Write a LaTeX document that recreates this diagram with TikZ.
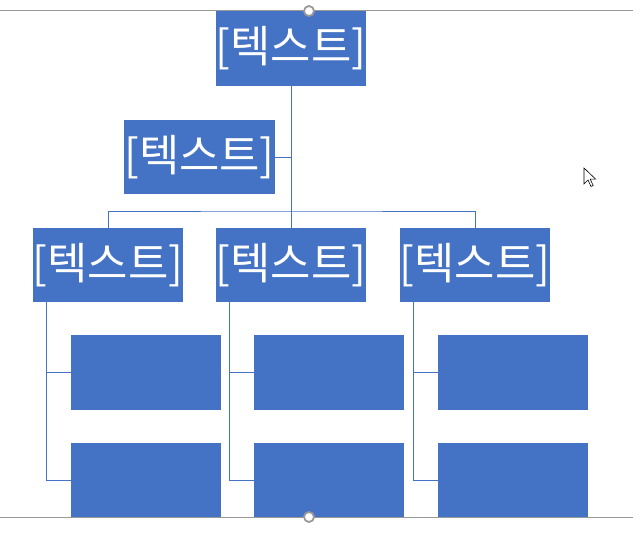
\documentclass[tikz,border=0pt]{standalone}
\usepackage{fontspec}
\newfontfamily\kr{Noto Sans CJK KR}
\definecolor{boxblue}{HTML}{4472C4}
\definecolor{framegray}{HTML}{999999}
\begin{document}
\begin{tikzpicture}[x=1bp,y=-1bp,
      box/.style={fill=boxblue, inner sep=0pt, minimum width=150bp, minimum height=75bp,
        text=white, font=\kr\fontsize{44}{46}\selectfont},
      sub/.style={fill=boxblue, inner sep=0pt, minimum width=150bp, minimum height=75bp},
      conn/.style={draw=boxblue, line width=0.9bp},
      frame/.style={draw=framegray, line width=1bp},
      handle/.style={circle, draw=framegray, fill=white, line width=1.8bp, minimum size=10bp, inner sep=0pt}]
    \useasboundingbox (0,0) rectangle (633,549);
    % --- vertice e assistente ---
    \node[box] (top) at (291,48.5) {[텍스트]};
    \node[box, minimum width=151bp, minimum height=74bp] (asst) at (199.5,157) {[텍스트]};
    \coordinate (jn) at (291,211);
    \draw[conn] (top.south) -- (jn);
    \draw[conn] (asst.east) -- (asst.east -| top.south);
    % --- tre colonne ---
    \foreach \i/\x in {1/108, 2/291, 3/475}{
      \node[box, minimum height=74bp] (c\i) at (\x,265) {[텍스트]};
      \node[sub] (s\i a) at (\x+38,372.5) {};
      \node[sub] (s\i b) at (\x+38,480) {};
      \coordinate (l\i) at ([xshift=14bp]c\i.south west);
      \draw[conn] (l\i) |- (s\i b.west);
      \draw[conn] (s\i a.west) -- (s\i a.west -| l\i);
    }
    \draw[conn] (c1.north) |- (jn) -| (c3.north);
    \draw[conn] (jn) -- (c2.north);
    % --- cornice di selezione ---
    \draw[frame] (0,11) -- (633,11);
    \draw[frame] (0,517) -- (633,517);
    \node[handle] (h1) at (309,11) {};
    \node[handle] (h2) at (309,517) {};
    % --- cursore ---
    \draw[fill=white, line width=0.6bp, line join=miter]
      (584,168) -- ++(0,16) -- ++(4,-4) -- ++(3,6.5) -- ++(2.2,-1) -- ++(-3,-6.3) -- ++(5.5,0) -- cycle;
  \end{tikzpicture}
\end{document}
